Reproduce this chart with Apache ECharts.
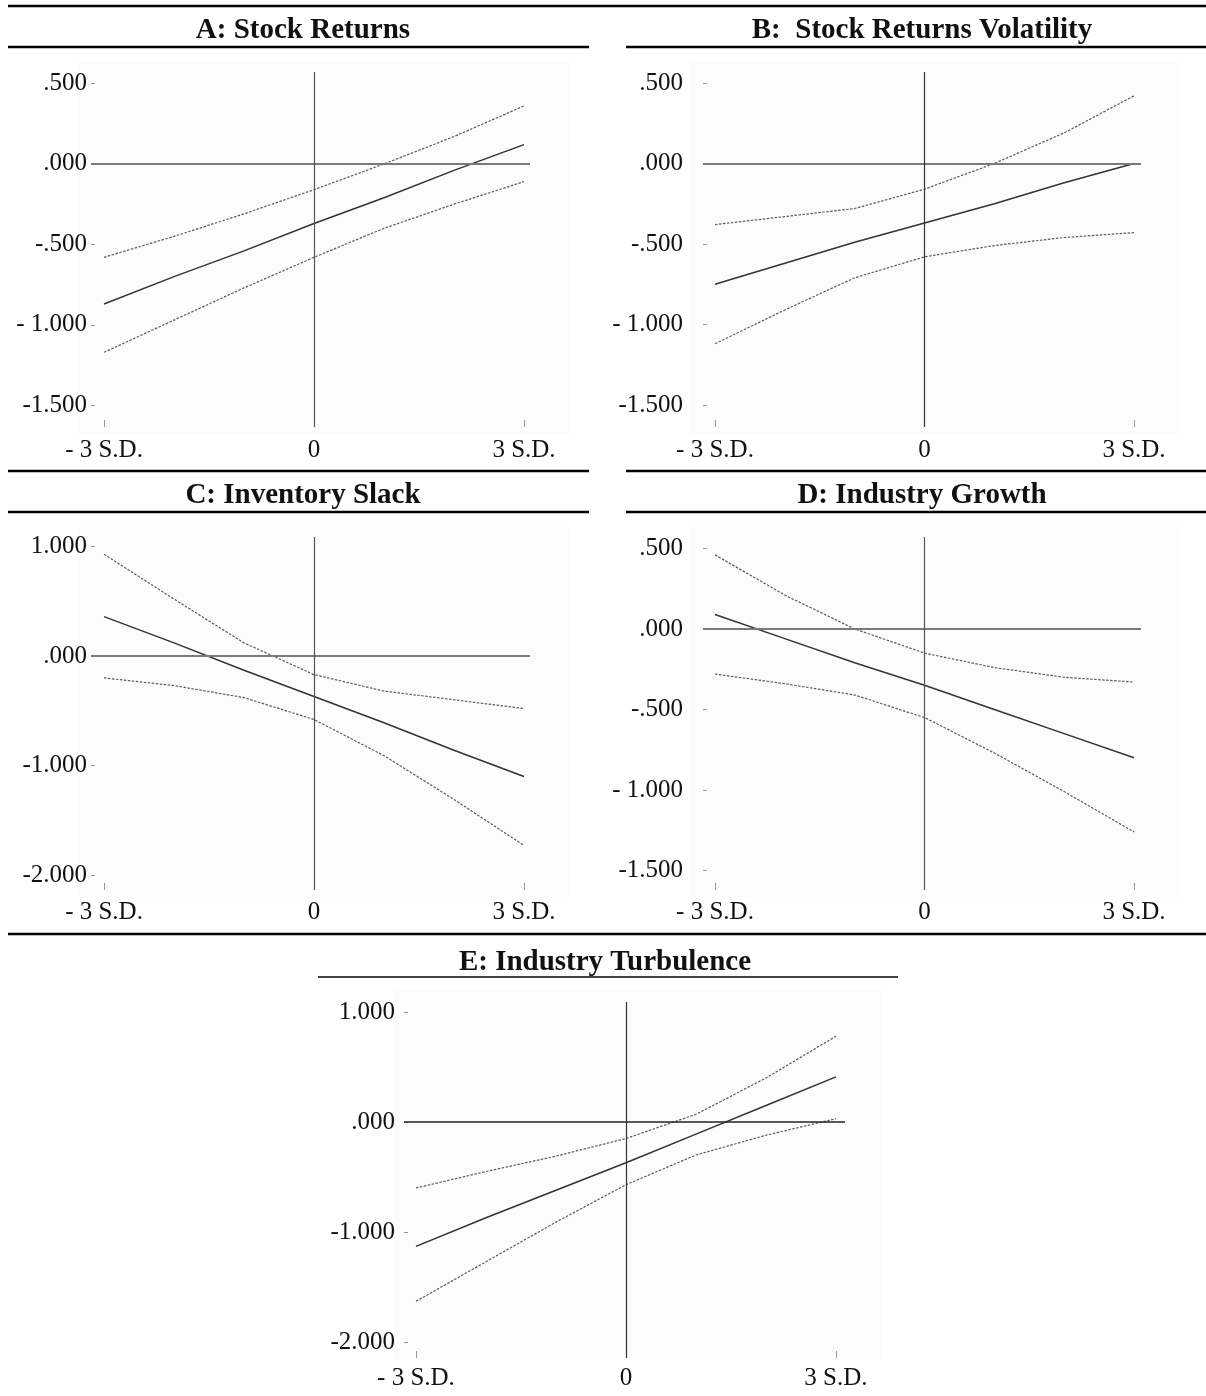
<!DOCTYPE html>
<html>
<head>
<meta charset="utf-8">
<title>Conditional effects</title>
<script src="https://cdn.jsdelivr.net/npm/echarts@6/dist/echarts.min.js"></script>
<style>
  html, body { margin: 0; padding: 0; background: #fff; }
  #chart { width: 1206px; height: 1396px; }
</style>
</head>
<body>
<div id="chart"></div>
<script>
// Moderator levels on the x axis
const xLevels = [-3, -2, -1, 0, 1, 2, 3];
const xTickValues = [-3, 0, 3];
const xTickLabels = ['- 3 S.D.', '0', '3 S.D.'];

// Panel titles
const titles = [
  'A: Stock Returns',
  'B:  Stock Returns Volatility',
  'C: Inventory Slack',
  'D: Industry Growth',
  'E: Industry Turbulence'
];

// A: Stock Returns
const aEffect = [-0.87, -0.70, -0.54, -0.37, -0.21, -0.04, 0.12];
const aUpper  = [-0.58, -0.45, -0.31, -0.16, 0.00, 0.17, 0.36];
const aLower  = [-1.17, -0.97, -0.77, -0.58, -0.40, -0.25, -0.11];
const aYTicks = [0.5, 0, -0.5, -1, -1.5];
const aYLabels = ['.500', '.000', '-.500', '- 1.000', '-1.500'];

// B: Stock Returns Volatility
const bEffect = [-0.75, -0.62, -0.49, -0.37, -0.25, -0.12, 0.00];
const bUpper  = [-0.38, -0.33, -0.28, -0.16, 0.00, 0.19, 0.42];
const bLower  = [-1.12, -0.91, -0.71, -0.58, -0.51, -0.46, -0.43];
const bYTicks = [0.5, 0, -0.5, -1, -1.5];
const bYLabels = ['.500', '.000', '-.500', '- 1.000', '-1.500'];

// C: Inventory Slack
const cEffect = [0.36, 0.12, -0.13, -0.37, -0.61, -0.86, -1.10];
const cUpper  = [0.93, 0.52, 0.12, -0.17, -0.32, -0.40, -0.48];
const cLower  = [-0.20, -0.27, -0.38, -0.58, -0.91, -1.31, -1.73];
const cYTicks = [1, 0, -1, -2];
const cYLabels = ['1.000', '.000', '-1.000', '-2.000'];

// D: Industry Growth
const dEffect = [0.09, -0.06, -0.21, -0.35, -0.50, -0.65, -0.80];
const dUpper  = [0.46, 0.21, 0.00, -0.15, -0.24, -0.30, -0.33];
const dLower  = [-0.28, -0.34, -0.41, -0.55, -0.77, -1.01, -1.26];
const dYTicks = [0.5, 0, -0.5, -1, -1.5];
const dYLabels = ['.500', '.000', '-.500', '- 1.000', '-1.500'];

// E: Industry Turbulence
const eEffect = [-1.13, -0.87, -0.62, -0.37, -0.11, 0.15, 0.41];
const eUpper  = [-0.60, -0.45, -0.31, -0.15, 0.07, 0.40, 0.78];
const eLower  = [-1.63, -1.27, -0.91, -0.57, -0.30, -0.12, 0.03];
const eYTicks = [1, 0, -1, -2];
const eYLabels = ['1.000', '.000', '-1.000', '-2.000'];

const SERIF = '"Liberation Serif", "Times New Roman", serif';

// Layout of each panel: grid box in pixels plus axis extents
const panels = [
  { effect: aEffect, upper: aUpper, lower: aLower, yTicks: aYTicks, yLabels: aYLabels,
    grid: { left: 91, top: 72, width: 439, height: 355 },
    x: [-3.186, 3.086], y: [-1.634, 0.571], yMargin: 4, xMargin: 11,
    zeroColor: '#7a7a7a', zeroWidth: 2, vColor: '#555', title: [298, 26],
    plate: [77, 62, 493, 372] },
  { effect: bEffect, upper: bUpper, lower: bLower, yTicks: bYTicks, yLabels: bYLabels,
    grid: { left: 703, top: 72, width: 438, height: 355 },
    x: [-3.172, 3.100], y: [-1.637, 0.568], yMargin: 20, xMargin: 11,
    zeroColor: '#7a7a7a', zeroWidth: 2, vColor: '#333', title: [917, 26],
    plate: [690, 62, 490, 372] },
  { effect: cEffect, upper: cUpper, lower: cLower, yTicks: cYTicks, yLabels: cYLabels,
    grid: { left: 91, top: 537, width: 439, height: 353 },
    x: [-3.186, 3.086], y: [-2.137, 1.087], yMargin: 4, xMargin: 10,
    zeroColor: '#7a7a7a', zeroWidth: 2, vColor: '#555', title: [298, 491],
    plate: [77, 527, 493, 370] },
  { effect: dEffect, upper: dUpper, lower: dLower, yTicks: dYTicks, yLabels: dYLabels,
    grid: { left: 703, top: 537, width: 438, height: 353 },
    x: [-3.172, 3.100], y: [-1.621, 0.571], yMargin: 20, xMargin: 10,
    zeroColor: '#7a7a7a', zeroWidth: 2, vColor: '#555', title: [917, 491],
    plate: [690, 527, 490, 370] },
  { effect: eEffect, upper: eUpper, lower: eLower, yTicks: eYTicks, yLabels: eYLabels,
    grid: { left: 404, top: 1002, width: 441, height: 356 },
    x: [-3.171, 3.129], y: [-2.145, 1.091], yMargin: 9, xMargin: 8,
    zeroColor: '#222', zeroWidth: 1.5, vColor: '#333', title: [600, 958],
    plate: [393, 990, 490, 370] }
];

const pair = (ys) => xLevels.map((x, i) => [x, ys[i]]);

const grids = [], xAxes = [], yAxes = [], series = [], titleOpts = [];

panels.forEach((p, i) => {
  grids.push(Object.assign({ containLabel: false }, p.grid));

  titleOpts.push({
    text: titles[i],
    left: p.title[0], top: p.title[1],
    textAlign: 'center', textVerticalAlign: 'middle',
    textStyle: { fontFamily: SERIF, fontWeight: 'bold', fontSize: 29, color: '#111' }
  });

  xAxes.push({
    type: 'value', gridIndex: i, min: p.x[0], max: p.x[1],
    axisLine: { show: false, onZero: false }, splitLine: { show: false },
    axisTick: { show: true, inside: true, length: 7, customValues: xTickValues,
                lineStyle: { color: '#999', width: 1 } },
    axisLabel: {
      customValues: xTickValues, margin: p.xMargin,
      fontFamily: SERIF, fontSize: 25, color: '#111',
      formatter: (v) => xTickLabels[xTickValues.indexOf(Math.round(v))]
    }
  });

  yAxes.push({
    type: 'value', gridIndex: i, min: p.y[0], max: p.y[1],
    axisLine: { show: false, onZero: false }, splitLine: { show: false },
    axisTick: { show: true, inside: true, length: 4, customValues: p.yTicks,
                lineStyle: { color: '#999', width: 1 } },
    axisLabel: {
      customValues: p.yTicks, margin: p.yMargin,
      fontFamily: SERIF, fontSize: 25, color: '#111',
      formatter: (v) => {
        const k = p.yTicks.findIndex(t => Math.abs(t - v) < 1e-6);
        return k >= 0 ? p.yLabels[k] : '';
      }
    }
  });

  // Reference lines at x = 0 and y = 0
  series.push({
    type: 'line', xAxisIndex: i, yAxisIndex: i, data: [],
    silent: true,
    markLine: {
      silent: true, symbol: 'none', label: { show: false },
      animation: false,
      data: [
        { yAxis: 0, lineStyle: { color: p.zeroColor, width: p.zeroWidth, type: 'solid' } },
        { xAxis: 0, lineStyle: { color: p.vColor, width: 1.2, type: 'solid' } }
      ]
    }
  });

  // Confidence bounds
  [p.upper, p.lower].forEach((b) => {
    series.push({
      type: 'line', xAxisIndex: i, yAxisIndex: i, data: pair(b),
      showSymbol: false, silent: true, z: 3,
      lineStyle: { color: '#5a5a5a', width: 1.2, type: [2.5, 1.5] }
    });
  });

  // Conditional effect
  series.push({
    type: 'line', xAxisIndex: i, yAxisIndex: i, data: pair(p.effect),
    showSymbol: false, silent: true, z: 4,
    lineStyle: { color: '#333', width: 1.5 }
  });
});

// Rules above and below the panel titles
const rule = (x1, y, x2, w) => ({
  type: 'line', silent: true,
  shape: { x1: x1, y1: y, x2: x2, y2: y },
  style: { stroke: '#000', lineWidth: w }
});

// Faint plot plates behind each panel
const plates = panels.map((p) => ({
  type: 'rect', silent: true, z: -10,
  shape: { x: p.plate[0], y: p.plate[1], width: p.plate[2], height: p.plate[3] },
  style: { fill: '#fcfcfc' }
}));

const graphics = plates.concat([
  rule(8, 6, 1206, 2.5),
  rule(8, 47, 589, 2.5), rule(626, 47, 1206, 2.5),
  rule(8, 471, 589, 2.5), rule(626, 471, 1206, 2.5),
  rule(8, 512, 589, 2.5), rule(626, 512, 1206, 2.5),
  rule(8, 934, 1206, 2.5),
  rule(318, 977, 898, 1.5)
]);

const chart = echarts.init(document.getElementById('chart'), null, { renderer: 'canvas' });
chart.setOption({
  animation: false,
  backgroundColor: '#fff',
  title: titleOpts,
  grid: grids,
  xAxis: xAxes,
  yAxis: yAxes,
  series: series,
  graphic: graphics
});
</script>
</body>
</html>
